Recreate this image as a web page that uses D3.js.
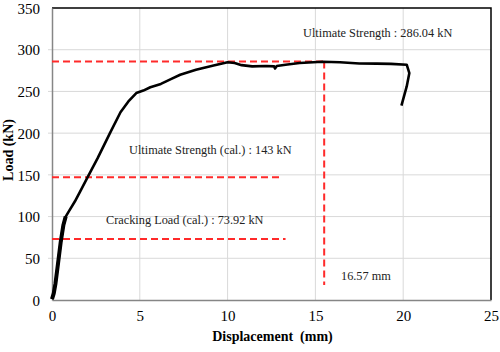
<!DOCTYPE html>
<html>
<head>
<meta charset="utf-8">
<script src="https://cdn.jsdelivr.net/npm/d3@7/dist/d3.min.js"></script>
<style>
  body { margin: 0; background: #fff; }
  svg { display: block; }
</style>
</head>
<body>
<div id="wrapper"></div>
<script>
// load-displacement curve (mm, kN)
const displacement = [0, 0.1, 0.2, 0.35, 0.5, 0.65, 0.78, 0.95, 1.3, 1.6, 2.0, 2.6, 3.3, 3.9, 4.35, 4.8, 5.2, 5.6, 6.2, 6.8, 7.3, 8.2, 9.2, 10.0, 10.4, 10.8, 11.4, 12.2, 12.65, 12.7, 12.8, 13.3, 14.1, 15.4, 16.4, 17.5, 18.5, 19.3, 20.2, 20.35, 20.2, 19.9];
const load = [1, 8, 20, 45, 70, 90, 100, 106, 118, 130, 146, 170, 200, 225, 238, 248, 251, 255, 259, 265, 270, 276, 281, 285, 284, 281.5, 280, 280.5, 280, 277.5, 280.5, 282, 284, 285.5, 285, 283.5, 283.3, 283, 282, 272, 256, 233];

const xTicks = [0, 5, 10, 15, 20, 25];
const yTicks = [0, 50, 100, 150, 200, 250, 300, 350];

// dashed reference lines: [x1, y1, x2, y2]
const refLines = [
    [0, 286, 15.5, 286],
    [15.5, 286, 15.5, 18],
    [0, 147, 13.15, 147],
    [0, 73, 13.3, 73]
];
const refLabels = [
    "Ultimate Strength : 286.04 kN",
    "Ultimate Strength (cal.) : 143 kN",
    "Cracking Load (cal.) : 73.92 kN",
    "16.57 mm"
];
// label anchors in pixels (left, baseline)
const labelPos = [[303, 37], [129, 154], [106, 224], [341, 280]];

const dimension = {
    width: 500,
    height: 352,
    margin: { top: 8, left: 52, bottom: 52, right: 9 }
};
dimension.boundedWidth = dimension.width - dimension.margin.left - dimension.margin.right;
dimension.boundedHeight = dimension.height - dimension.margin.top - dimension.margin.bottom;

const svg = d3.select("#wrapper").append("svg")
    .attr("width", dimension.width)
    .attr("height", dimension.height)
    .style("font-family", "'Liberation Serif', 'Times New Roman', serif");

const bounded = svg.append("g")
    .attr("transform", `translate(${dimension.margin.left},${dimension.margin.top})`);

const xScaler = d3.scaleLinear().domain([0, 25]).range([0, dimension.boundedWidth]);
const yScaler = d3.scaleLinear().domain([0, 350]).range([dimension.boundedHeight, 0]);

// grid
bounded.append("g")
    .selectAll("line.v")
    .data(xTicks.slice(1, -1))
    .join("line")
    .attr("x1", d => xScaler(d)).attr("x2", d => xScaler(d))
    .attr("y1", 0).attr("y2", dimension.boundedHeight)
    .attr("stroke", "#d9d9d9");
bounded.append("g")
    .selectAll("line.h")
    .data(yTicks.slice(1, -1))
    .join("line")
    .attr("x1", -4).attr("x2", dimension.boundedWidth)
    .attr("y1", d => yScaler(d)).attr("y2", d => yScaler(d))
    .attr("stroke", "#d9d9d9");

// plot frame (top + right black)
bounded.append("path")
    .attr("d", `M0,0H${dimension.boundedWidth}V${dimension.boundedHeight}`)
    .attr("fill", "none")
    .attr("stroke", "#000")
    .attr("stroke-width", 1.5);

// axes
const x_axis = d3.axisBottom(xScaler).tickValues(xTicks).tickSize(0).tickPadding(10);
const y_axis = d3.axisLeft(yScaler).tickValues(yTicks).tickSize(0).tickPadding(12);

const gx = bounded.append("g")
    .attr("transform", `translate(0,${dimension.boundedHeight})`)
    .call(x_axis);
const gy = bounded.append("g").call(y_axis);

[gx, gy].forEach(g => {
    g.select(".domain").attr("stroke", "#868686").attr("stroke-width", 1.5);
    g.selectAll("text")
        .attr("fill", "#000")
        .style("font-size", "15px")
        .style("font-family", "'Liberation Serif', 'Times New Roman', serif");
});
gy.selectAll("text").attr("dy", "0.35em");

// reference lines
bounded.append("g")
    .selectAll("line")
    .data(refLines)
    .join("line")
    .attr("x1", d => xScaler(d[0])).attr("y1", d => yScaler(d[1]))
    .attr("x2", d => xScaler(d[2])).attr("y2", d => yScaler(d[3]))
    .attr("stroke", "#ff2a2a")
    .attr("stroke-width", 2)
    .attr("stroke-dasharray", "7,4");

// curve
const points = displacement.map((d, i) => [d, load[i]]);
const lineGen = d3.line()
    .x(d => xScaler(d[0]))
    .y(d => yScaler(d[1]));

// noisy early part reads thicker in the picture
bounded.append("path")
    .attr("d", lineGen(points.filter(d => d[1] <= 100)))
    .attr("fill", "none")
    .attr("stroke", "#000")
    .attr("stroke-width", 4)
    .attr("stroke-linejoin", "round");

bounded.append("path")
    .attr("d", lineGen(points))
    .attr("fill", "none")
    .attr("stroke", "#000")
    .attr("stroke-width", 2.6)
    .attr("stroke-linejoin", "round");

// labels
svg.append("g")
    .selectAll("text")
    .data(refLabels)
    .join("text")
    .attr("x", (d, i) => labelPos[i][0])
    .attr("y", (d, i) => labelPos[i][1])
    .attr("fill", "#222")
    .style("font-size", "12.3px")
    .text(d => d);

// axis titles
svg.append("text")
    .attr("x", dimension.margin.left + dimension.boundedWidth / 2 + 1)
    .attr("y", 341)
    .attr("text-anchor", "middle")
    .style("font-size", "14px")
    .style("font-weight", "bold")
    .attr("xml:space", "preserve")
    .text("Displacement  (mm)");

svg.append("text")
    .attr("transform", "translate(13,150) rotate(-90)")
    .attr("text-anchor", "middle")
    .style("font-size", "14px")
    .style("font-weight", "bold")
    .text("Load (kN)");
</script>
</body>
</html>
